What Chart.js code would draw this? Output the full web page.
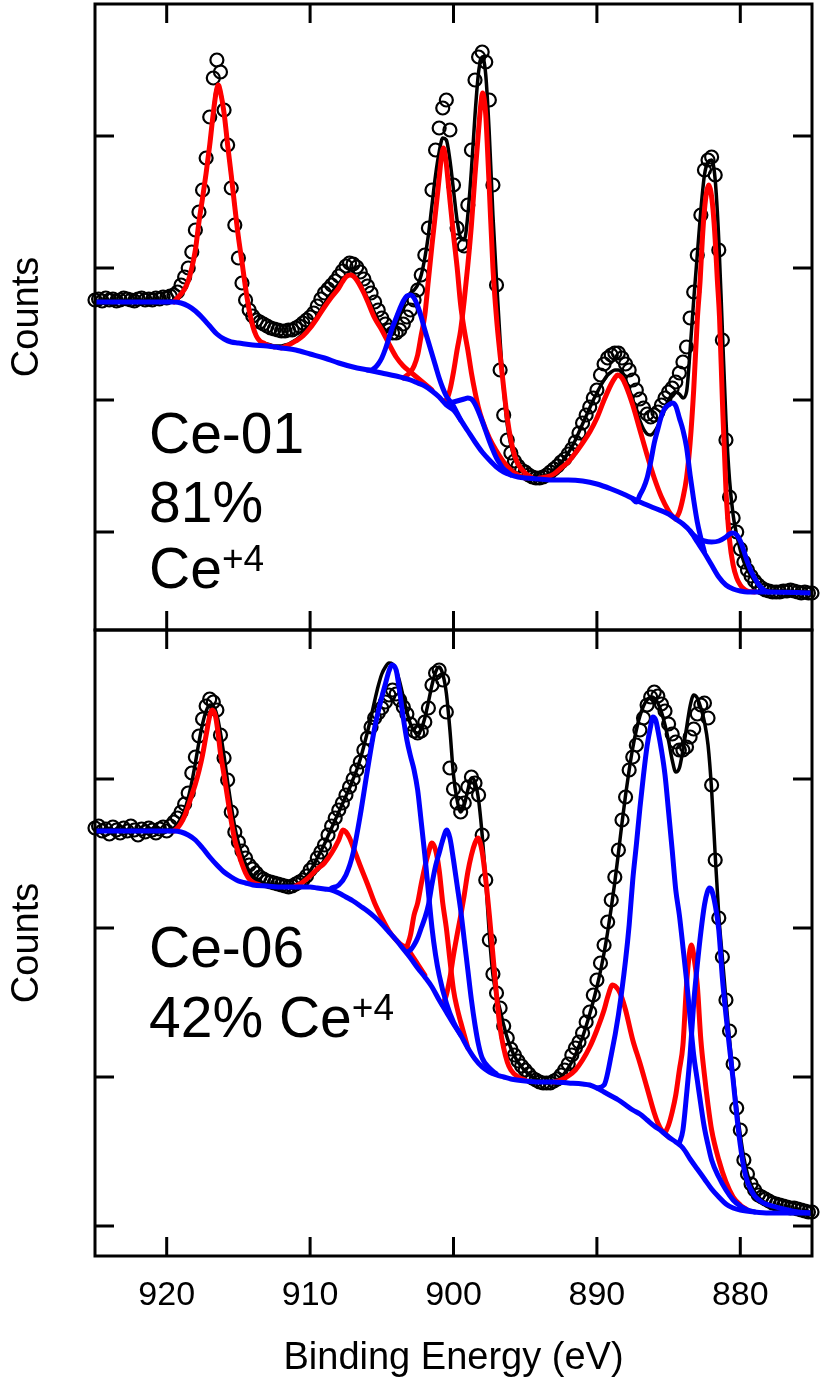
<!DOCTYPE html>
<html lang="en">
<head>
<meta charset="utf-8">
<title>Ce 3d XPS – Ce-01 / Ce-06</title>
<script src="https://cdn.jsdelivr.net/npm/chart.js"></script>
<style>
html, body { margin:0; padding:0; background:#fff; }
#page { position:relative; width:827px; height:1386px; overflow:hidden; background:#fff; }
#page canvas { position:absolute; left:0; }
#topChart { top:0; }
#bottomChart { top:620px; }
.lbl { position:absolute; left:149px; font-family:'Liberation Sans', Arial, Helvetica, sans-serif; font-size:57px; line-height:57px; color:#000; white-space:nowrap; }
.lbl .sup { font-size:37px; line-height:0; position:relative; top:-17px; }
</style>
</head>
<body>
<div id="page">
<canvas id="topChart" width="827" height="640" style="width:827px;height:640px"></canvas>
<canvas id="bottomChart" width="827" height="766" style="width:827px;height:766px"></canvas>
<div class="lbl" style="top:405px">Ce-01</div>
<div class="lbl" style="top:474px">81%</div>
<div class="lbl" style="top:540px">Ce<span class="sup">+4</span></div>
<div class="lbl" style="top:919px">Ce-06</div>
<div class="lbl" style="top:989px">42% Ce<span class="sup">+4</span></div>
</div>
<script>
// ---------------- axis ticks ----------------
const xTicks = [920, 910, 900, 890, 880];
const topTicks = [98, 230, 362, 494];
const botTicks = [30, 179, 328, 477];

// ---------------- binding energy grid of the measured spectra (eV) ----------------
const energy = [
925,924.75,924.5,924.25, 924,923.75,923.5,923.25, 923,922.75,922.5,922.25, 922,921.75,921.5,921.25, 921,920.75,920.5,920.25,
920,919.75,919.5,919.25, 919,918.75,918.5,918.25, 918,917.75,917.5,917.25, 917,916.75,916.5,916.25, 916,915.75,915.5,915.25,
915,914.75,914.5,914.25, 914,913.75,913.5,913.25, 913,912.75,912.5,912.25, 912,911.75,911.5,911.25, 911,910.75,910.5,910.25,
910,909.75,909.5,909.25, 909,908.75,908.5,908.25, 908,907.75,907.5,907.25, 907,906.75,906.5,906.25, 906,905.75,905.5,905.25,
905,904.75,904.5,904.25, 904,903.75,903.5,903.25, 903,902.75,902.5,902.25, 902,901.75,901.5,901.25, 901,900.75,900.5,900.25,
900,899.75,899.5,899.25, 899,898.75,898.5,898.25, 898,897.75,897.5,897.25, 897,896.75,896.5,896.25, 896,895.75,895.5,895.25,
895,894.75,894.5,894.25, 894,893.75,893.5,893.25, 893,892.75,892.5,892.25, 892,891.75,891.5,891.25, 891,890.75,890.5,890.25,
890,889.75,889.5,889.25, 889,888.75,888.5,888.25, 888,887.75,887.5,887.25, 887,886.75,886.5,886.25, 886,885.75,885.5,885.25,
885,884.75,884.5,884.25, 884,883.75,883.5,883.25, 883,882.75,882.5,882.25, 882,881.75,881.5,881.25, 881,880.75,880.5,880.25,
880,879.75,879.5,879.25, 879,878.75,878.5,878.25, 878,877.75,877.5,877.25, 877,876.75,876.5,876.25, 876,875.75,875.5,875.25,
875];

// ---------------- Ce-01 (top panel) ----------------
const topCounts = [
330,331,329,332, 330,331,329,330, 332,331,330,329, 331,332,330,331, 330,332,331,333,
332,334,335,338, 345,353,362,378, 400,418,440,472, 513,552,570,558, 520,485,442,405,
372,347,330,320, 314,310,308,306, 304,302,301,300, 299,299,300,300, 302,304,307,310,
313,317,324,331, 337,341,345,349, 354,359,364,367, 366,363,358,351, 344,337,328,320,
312,306,300,297, 297,300,306,313, 320,330,340,355, 375,402,440,480, 502,522,530,500,
445,402,386,384, 425,480,550,573, 578,568,530,445, 345,260,215,190, 177,169,164,160,
158,155,153,152, 152,153,155,158, 161,164,168,171, 176,181,188,197, 207,215,223,232,
240,255,266,272, 275,277,277,272, 266,260,250,240, 231,222,216,213, 215,218,225,232,
238,242,248,257, 268,283,312,338, 375,415,460,470, 473,455,380,290, 190,133,112,98,
81,68,60,54, 49,45,42,40, 39,38,38,38, 39,39,40,39, 38,37,38,37,
37];
const topFit = [
329,329,329,329, 329,329,329,329, 329,329,329,329, 329,329,329,329, 329,329,329,329,
329,329,330,332, 336,341,349,362, 380,408,432,457, 485,517,542,538, 517,485,455,423,
393,368,342,320, 304,294,289,287, 286,285,284,284, 284,285,286,288, 290,293,296,300,
304,308,314,320, 326,332,337,342, 346,351,354,356, 355,351,345,339, 332,325,317,310,
304,300,298,300, 305,315,325,332, 337,340,345,355, 372,395,425,455, 478,492,490,470,
440,410,392,390, 415,460,515,558, 573,555,495,415, 350,290,240,205, 185,172,165,160,
157,154,152,152, 153,154,155,157, 160,163,167,172, 177,183,190,198, 206,214,222,230,
237,244,250,255, 258,260,260,257, 250,241,230,219, 209,201,196,195, 198,204,213,222,
230,236,238,236, 232,238,280,330, 375,420,455,468, 470,450,390,300, 210,150,115,95,
80,68,60,54, 49,45,42,40, 39,38,38,38, 38,38,38,38, 38,38,38,38,
38];
const topBgE = [925,919.5,919,918.5,918,917.5,917,916.5,916,915.5,915,914,913,912,911,910,909,908,907,906,905,904,903,902.5,902,901.5,901,900.5,900,899.5,899,898.5,898,897.5,897,896.5,896,895.5,895,894,893,892,891,890,889,888,887,886,885,884.5,884,883.5,883,882.5,882,881.5,881,880.5,880,879.5,878,875];
const topBg = [328,328,327,324,319,312,304,296,291,288,287,285,284,282,280,276,272,267,263,260,257,254,250,247,244,239,233,225,220,210,199,188,178,170,163,158,155,153,152,151,150,150,149,146,141,135,128,122,116,111,106,99,88,77,65,53,45,41,39,38,38,37];
// Ce4+ components (red)
const topRed1E = [919.5,919.25,919,918.75,918.5,918.25,918,917.75,917.5,917.25,917,916.75,916.55,916.4,916.25,916,915.75,915.5,915.25,915,914.75,914.5,914.25,914,913.75,913.5,913.25,913,912.5];
const topRed1 = [328,332,336,341,349,362,380,408,432,457,485,517,538,545,538,517,485,455,423,393,368,342,320,304,294,289,287,285,283];
const topRed2E = [912,911.5,911,910.5,910,909.5,909,908.5,908,907.75,907.5,907.2,907,906.75,906.5,906.25,906,905.5,905,904.5,904,903.5,903,902.5,902,901.5];
const topRed2 = [282,285,289,294,302,312,323,333,342,348,353,355,354,350,344,337,329,312,300,286,273,264,258,252,246,240];
const topRed3E = [903.5,903,902.75,902.5,902.25,902,901.75,901.5,901.25,901,900.85,900.7,900.55,900.4,900.25,900,899.75,899.5,899.25,899,898.75,898.5,898.25,898,897.5,897,896.5,896,895.5,895];
const topRed3 = [252,258,264,275,295,315,350,385,418,452,472,482,472,452,430,395,363,325,300,280,257,238,222,210,192,179,168,160,155,152];
const topRed4E = [900.75,900.5,900.25,900,899.75,899.5,899.25,899,898.75,898.5,898.25,898.1,897.97,897.85,897.75,897.5,897.25,897,896.75,896.5,896.25,896,895.75,895.5,895,894.5];
const topRed4 = [229,230,240,258,280,300,330,365,405,455,500,525,537,530,515,440,362,312,275,242,212,190,175,166,157,152];
const topRed5E = [894,893.5,893,892.5,892,891.5,891,890.5,890,889.5,889,888.75,888.56,888.25,888,887.5,887,886.5,886,885.5,885,884.75,884.5];
const topRed5 = [152,153,156,162,168,177,187,198,212,230,246,252,255,252,245,225,200,175,152,133,119,114,111];
const topRed6E = [884.5,884.25,884,883.75,883.5,883.25,883,882.8,882.65,882.5,882.35,882.2,882.05,881.9,881.75,881.6,881.45,881.25,881,880.75,880.5,880.25,880,879.75,879.5,879];
const topRed6 = [111,118,132,152,187,240,310,350,390,420,438,445,438,420,390,350,313,230,140,90,65,52,45,41,39,38];
// Ce3+ components (blue)
const topBlue1E = [906,905.75,905.5,905.25,905,904.75,904.5,904.25,904,903.75,903.5,903.25,903,902.75,902.5,902.25,902,901.75,901.5,901.25,901,900.75,900.5,900.25,900,899.75,899.5];
const topBlue1 = [260,260,262,266,272,281,292,303,312,321,329,334,335,332,324,313,300,288,276,264,252,242,234,229,224,217,210];
const topBlue2E = [900.5,900.25,900,899.75,899.5,899.25,899,898.75,898.5,898.25,898,897.75,897.5,897.25,897,896.75,896.5,896.25,896];
const topBlue2 = [226,227,228,229,230,231,232,231,226,218,209,199,189,180,172,166,161,158,155];
const topBlue3E = [887.5,887.25,887,886.75,886.5,886.25,886,885.75,885.5,885.25,885,884.75,884.5,884.25,884,883.75,883.5,883.25,883,882.75,882.5];
const topBlue3 = [131,128,135,142,152,168,187,201,214,222,225,227,224,212,200,183,155,130,108,92,78];
const topBlue4E = [883.5,883.25,883,882.5,882,881.5,881,880.75,880.5,880.25,880,879.75,879.5,879.25,879,878.75,878.5,878.25,878];
const topBlue4 = [99,95,92,89,88,89,93,96,97,95,89,79,68,59,52,46,42,39,38];

// ---------------- Ce-06 (bottom panel) ----------------
const botCounts = [
428,430,425,427, 422,429,426,423, 428,425,430,426, 421,427,424,428, 426,423,427,429,
425,430,434,438, 444,452,463,483, 499,520,537,550, 557,554,546,521, 498,476,444,424,
414,405,398,391, 387,383,379,377, 375,374,373,372, 371,370,369,370, 372,374,376,380,
386,390,398,404, 411,421,430,438, 446,453,461,469, 477,486,494,506, 518,529,538,543,
548,554,561,566, 562,556,549,542, 532,525,523,525, 534,548,571,583, 586,576,544,488,
467,453,444,453, 469,479,473,461, 421,376,316,282, 263,248,230,218, 207,201,195,190,
186,182,178,176, 174,173,173,173, 175,177,181,186, 192,201,208,214, 223,234,244,261,
276,293,311,334, 356,379,406,436, 459,486,499,511, 526,538,551,559, 564,560,552,545,
532,522,514,506, 506,509,519,527, 542,551,553,538, 471,396,338,299, 256,225,192,148,
126,96,82,72, 66,61,59,57, 55,53,52,51, 50,49,48,48, 47,46,45,44,
44];
const botFit = [
426,426,426,426, 426,426,426,426, 426,426,426,426, 426,426,426,426, 426,426,426,426,
426,426,428,432, 438,446,458,474, 493,514,532,545, 551,550,541,523, 500,474,450,429,
413,401,392,385, 380,377,375,373, 372,372,371,371, 370,370,370,371, 371,373,376,380,
385,391,398,405, 412,420,428,436, 444,452,460,468, 477,486,497,510, 524,539,555,570,
582,589,593,592, 586,574,559,544, 532,525,523,527, 538,554,571,584, 589,582,563,526,
481,456,444,451, 466,478,474,456, 421,376,321,281, 261,246,231,218, 208,200,194,189,
185,182,179,177, 175,174,173,173, 174,176,179,183, 188,194,201,210, 219,230,242,255,
269,285,303,324, 348,374,403,433, 461,486,508,526, 540,550,556,559, 558,553,544,531,
515,496,484,488, 506,528,550,561, 558,548,534,511, 466,401,341,298, 256,216,181,148,
121,98,82,71, 64,59,56,53, 51,50,48,47, 46,45,45,45, 45,44,44,44,
44];
const botBgE = [925,919.5,919,918.5,918,917.5,917,916.5,916,915.5,915,914.5,914,913,912,911,910,909.5,909,908.5,908,907.5,907,906.5,906,905.5,905,904.5,904,903.5,903,902.5,902,901.5,901,900.5,900,899.5,899,898.5,898,897.5,897,896.5,896,895,894,893,892,891,890.5,890,889.5,889,888.5,888,887.5,887,886.5,886,885.5,885,884.5,884,883.5,883,882.5,882,881.5,881,880.5,880,879,878,875];
const botBg = [425,425,424,421,416,408,399,391,384,379,375,373,371,370,369,369,369,368,367,366,363,359,355,350,345,339,332,324,316,307,298,288,279,269,256,244,232,221,208,197,189,184,181,179,177,175,174,174,173,172,171,168,164,160,156,151,146,142,136,130,125,119,114,108,97,87,77,67,59,52,48,46,44,43,43];
// Ce4+ components (red)
const botRed1E = [919.5,919.25,919,918.75,918.5,918.25,918,917.75,917.5,917.25,917,916.83,916.6,916.4,916.25,916,915.75,915.5,915.25,915,914.75,914.5,914.25,914,913.5];
const botRed1 = [425,428,433,440,450,461,472,485,501,521,540,546,540,521,503,481,458,435,416,403,392,383,377,374,371];
const botRed2E = [911,910.5,910,909.5,909,908.5,908,907.71,907.5,907.25,907,906.5,906,905.5,905,904.5,904,903.5,903.25,903,902.5,902];
const botRed2 = [370,374,380,387,393,403,416,426,424,418,409,390,372,353,338,325,316,310,309,303,292,281];
const botRed3E = [903.25,903,902.75,902.5,902.25,902,901.75,901.51,901.25,901,900.75,900.5,900.25,900,899.75,899.5,899.25,899];
const botRed3 = [309,321,341,353,372,389,403,413,406,386,353,328,296,266,248,234,221,208];
const botRed4E = [900.75,900.5,900.25,900,899.75,899.5,899.25,899,898.75,898.5,898.3,898,897.75,897.5,897.25,897,896.75,896.5,896.25,896,895.5,895];
const botRed4 = [251,261,278,301,321,340,361,384,401,413,418,404,376,341,301,261,228,208,194,186,179,176];
const botRed5E = [893,892.5,892,891.5,891,890.5,890,889.5,889.25,888.91,888.5,888.25,888,887.5,887,886.5,886,885.75,885.5,885];
const botRed5 = [174,176,180,186,196,209,226,246,259,271,266,258,246,216,193,168,143,133,126,119];
const botRed6E = [885.25,885,884.75,884.5,884.25,884,883.75,883.6,883.42,883.25,883,882.75,882.5,882.25,882,881.5,881,880.5,880,879.5];
const botRed6 = [123,131,144,161,186,211,271,296,311,301,271,216,181,151,126,96,74,59,51,46];
// Ce3+ components (blue)
const botBlue1E = [908.5,908,907.5,907,906.5,906,905.5,905,904.75,904.5,904.3,904,903.75,903.5,903.25,903,902.75,902.5,902.25,902,901.75,901.5,901.25,901,900.5,900,899.5];
const botBlue1 = [368,371,381,403,441,486,528,559,572,585,591,586,564,538,516,500,486,466,434,401,364,328,301,281,253,234,221];
const botBlue2E = [903.25,903,902.75,902.5,902.25,902,901.75,901.5,901.25,901,900.75,900.46,900.25,900,899.75,899.5,899.25,899,898.75,898.5,898.25,898,897.5,897];
const botBlue2 = [304,306,311,318,328,338,351,372,390,403,416,426,418,396,371,346,316,286,256,231,211,198,188,182];
const botBlue3E = [890,889.5,889,888.5,888,887.75,887.5,887.25,887,886.75,886.5,886.25,886.1,885.9,885.75,885.5,885.25,885,884.75,884.5,884.25,884,883.75,883.5,883.25,883,882.75,882.5,882.25,882,881.5,881,880.5,880,879.5,879];
const botBlue3 = [168,171,201,241,296,331,376,411,448,481,510,530,539,536,526,506,481,444,406,366,341,309,276,238,201,176,151,128,111,96,79,66,56,50,46,44];
const botBlue4E = [884.25,884,883.75,883.5,883.25,883,882.75,882.5,882.3,882.15,882,881.75,881.5,881.25,881,880.75,880.5,880.25,880,879.75,879.5,879.25,879,878.5,878,877,876,875];
const botBlue4 = [113,126,161,201,253,291,324,351,364,368,366,351,326,278,241,208,176,141,111,88,74,66,60,54,51,47,44,43];

// ---------------- helpers ----------------
const RED = '#ff0000', BLUE = '#0000ff', BLACK = '#000000';
Chart.defaults.font.family = "'Liberation Sans', Arial, Helvetica, sans-serif";
Chart.defaults.color = '#000';

function pts(xs, ys) { return xs.map((x, i) => ({ x: x, y: ys[i] })); }
function lineSet(label, xs, ys, color, width, order) {
  return { label: label, data: pts(xs, ys), borderColor: color, backgroundColor: color,
    borderWidth: width, pointRadius: 0, pointHoverRadius: 0, fill: false,
    cubicInterpolationMode: 'monotone', borderJoinStyle: 'round', borderCapStyle: 'round', order: order };
}
function dataSet(label, xs, ys) {
  return { label: label, data: pts(xs, ys), showLine: false, pointRadius: 6.5, pointHoverRadius: 6.5,
    pointBorderWidth: 2.2, pointBorderColor: BLACK, pointBackgroundColor: 'rgba(0,0,0,0)',
    pointStyle: 'circle', clip: false, order: 6 };
}

const TICK_LEN = 19;
const framePlugin = {
  id: 'frame',
  afterDatasetsDraw(chart, args, opts) {
    const ctx = chart.ctx, a = chart.chartArea, sx = chart.scales.x, sy = chart.scales.y;
    ctx.save();
    ctx.strokeStyle = BLACK;
    ctx.lineWidth = 3;
    ctx.strokeRect(a.left, a.top, a.right - a.left, a.bottom - a.top);
    ctx.beginPath();
    xTicks.forEach(v => {
      const p = sx.getPixelForValue(v);
      ctx.moveTo(p, a.top); ctx.lineTo(p, a.top + TICK_LEN);
      ctx.moveTo(p, a.bottom); ctx.lineTo(p, a.bottom - TICK_LEN);
    });
    (opts.yTicks || []).forEach(v => {
      const p = sy.getPixelForValue(v);
      ctx.moveTo(a.left, p); ctx.lineTo(a.left + TICK_LEN, p);
      ctx.moveTo(a.right, p); ctx.lineTo(a.right - TICK_LEN, p);
    });
    ctx.stroke();
    ctx.restore();
  }
};

function yScale(ticksArr) {
  return {
    type: 'linear', position: 'left', min: 0, max: 626,
    afterBuildTicks: s => { s.ticks = ticksArr.map(v => ({ value: v })); },
    afterFit: s => { s.width = 95; },
    grid: { display: false, drawTicks: false }, border: { display: false },
    ticks: { display: false },
    title: { display: true, text: 'Counts', color: BLACK, font: { size: 38 }, padding: { top: 5, bottom: 0 } }
  };
}

function makeChart(id, datasets, yTicksArr, xAxis, pad) {
  return new Chart(document.getElementById(id), {
    type: 'line',
    data: { datasets: datasets },
    plugins: [framePlugin],
    options: {
      responsive: false, animation: false, events: [],
      layout: { padding: pad, autoPadding: false },
      plugins: { legend: { display: false }, tooltip: { enabled: false }, frame: { yTicks: yTicksArr } },
      scales: { x: xAxis, y: yScale(yTicksArr) }
    }
  });
}

const W_COMP = 5, W_FIT = 3.5;

// ---------------- top chart: Ce-01 ----------------
makeChart('topChart', [
  lineSet('Background', topBgE, topBg, BLUE, W_COMP, 1),
  lineSet('Ce3+ 903.0', topBlue1E, topBlue1, BLUE, W_COMP, 2),
  lineSet('Ce3+ 898.9', topBlue2E, topBlue2, BLUE, W_COMP, 2),
  lineSet('Ce3+ 884.7', topBlue3E, topBlue3, BLUE, W_COMP, 2),
  lineSet('Ce3+ 880.5', topBlue4E, topBlue4, BLUE, W_COMP, 2),
  lineSet('Ce4+ 916.4', topRed1E, topRed1, RED, W_COMP, 3),
  lineSet('Ce4+ 907.2', topRed2E, topRed2, RED, W_COMP, 3),
  lineSet('Ce4+ 900.7', topRed3E, topRed3, RED, W_COMP, 3),
  lineSet('Ce4+ 898.0', topRed4E, topRed4, RED, W_COMP, 3),
  lineSet('Ce4+ 888.6', topRed5E, topRed5, RED, W_COMP, 3),
  lineSet('Ce4+ 882.2', topRed6E, topRed6, RED, W_COMP, 3),
  lineSet('Fit', energy, topFit, BLACK, W_FIT, 5),
  dataSet('Ce-01 data', energy, topCounts)
], topTicks, {
  type: 'linear', reverse: true, min: 875, max: 925, display: false
}, { top: 4, right: 15, bottom: 10, left: 0 });

// ---------------- bottom chart: Ce-06 ----------------
makeChart('bottomChart', [
  lineSet('Background', botBgE, botBg, BLUE, W_COMP, 1),
  lineSet('Ce3+ 904.3', botBlue1E, botBlue1, BLUE, W_COMP, 2),
  lineSet('Ce3+ 900.5', botBlue2E, botBlue2, BLUE, W_COMP, 2),
  lineSet('Ce3+ 885.9', botBlue3E, botBlue3, BLUE, W_COMP, 2),
  lineSet('Ce3+ 882.2', botBlue4E, botBlue4, BLUE, W_COMP, 2),
  lineSet('Ce4+ 916.8', botRed1E, botRed1, RED, W_COMP, 3),
  lineSet('Ce4+ 907.7', botRed2E, botRed2, RED, W_COMP, 3),
  lineSet('Ce4+ 901.5', botRed3E, botRed3, RED, W_COMP, 3),
  lineSet('Ce4+ 898.3', botRed4E, botRed4, RED, W_COMP, 3),
  lineSet('Ce4+ 888.9', botRed5E, botRed5, RED, W_COMP, 3),
  lineSet('Ce4+ 883.4', botRed6E, botRed6, RED, W_COMP, 3),
  lineSet('Fit', energy, botFit, BLACK, W_FIT, 5),
  dataSet('Ce-06 data', energy, botCounts)
], botTicks, {
  type: 'linear', reverse: true, min: 875, max: 925, position: 'bottom',
  afterBuildTicks: s => { s.ticks = xTicks.map(v => ({ value: v })); },
  afterFit: s => { s.height = 125; },
  grid: { display: false, drawTicks: false }, border: { display: false },
  ticks: { color: BLACK, font: { size: 34 }, padding: 19, maxRotation: 0, minRotation: 0, autoSkip: false,
           callback: v => String(v) },
  title: { display: true, text: 'Binding Energy (eV)', color: BLACK, font: { size: 38 }, padding: { top: 0, bottom: 0 } }
}, { top: 10, right: 15, bottom: 5, left: 0 });
</script>
</body>
</html>
